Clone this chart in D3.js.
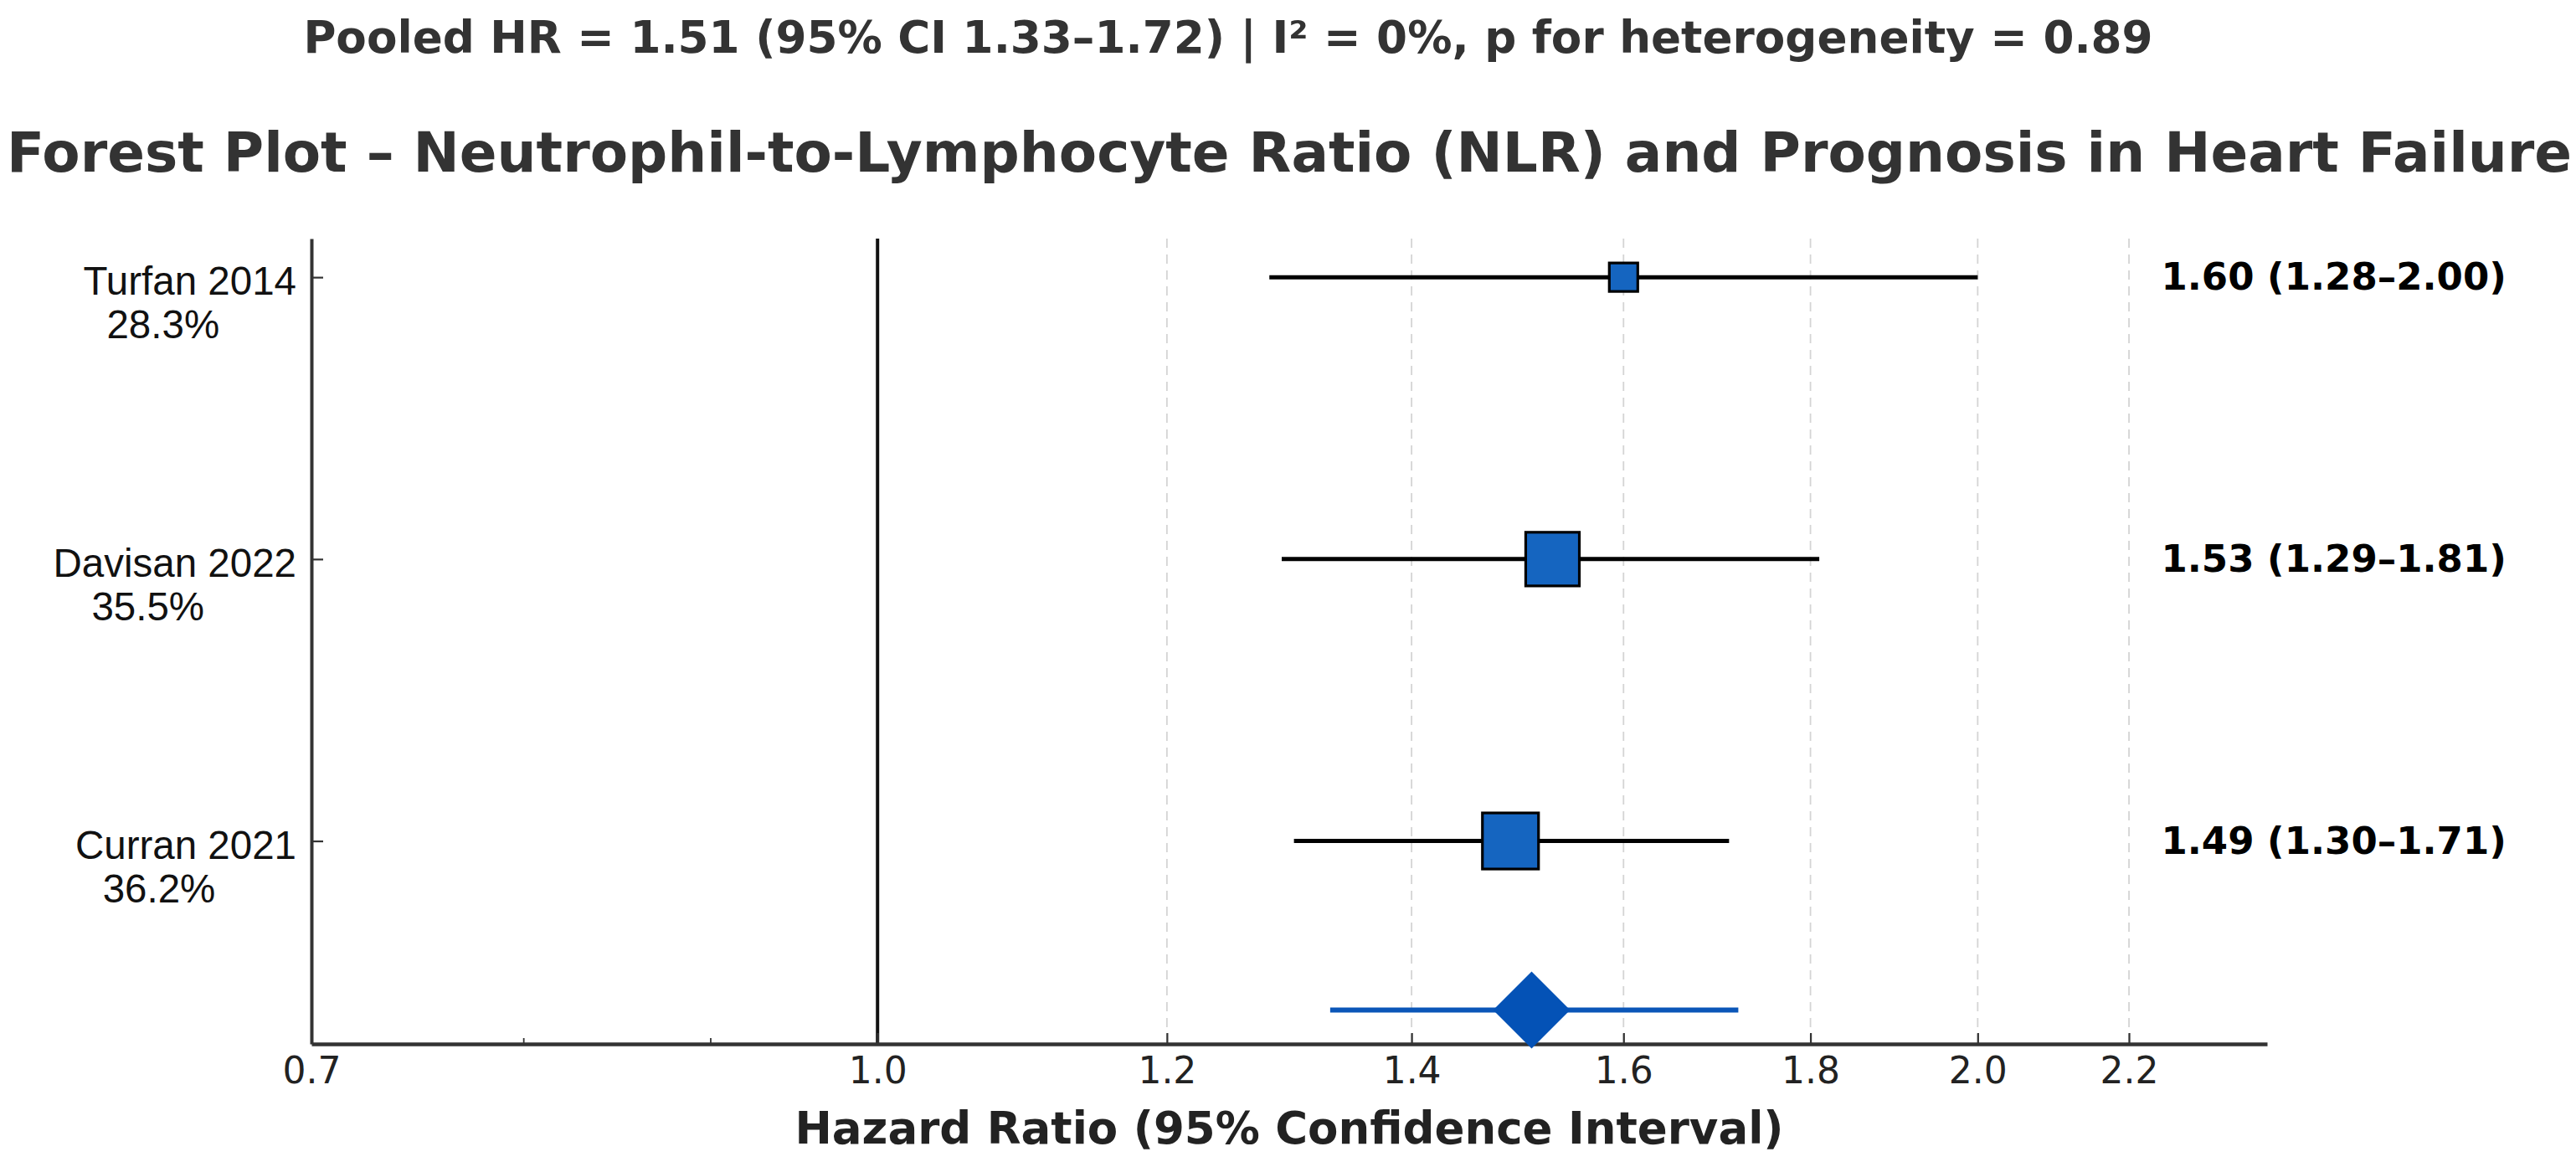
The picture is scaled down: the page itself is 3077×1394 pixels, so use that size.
<!DOCTYPE html>
<html><head><meta charset="utf-8">
<script src="https://cdn.jsdelivr.net/npm/d3@7/dist/d3.min.js"></script>
<style>body{margin:0;background:#fff}svg{display:block}</style>
</head><body><svg id="chart"></svg>
<script>
// ---- data ----
const studies = ["Turfan 2014", "Davisan 2022", "Curran 2021"];
const weights = [28.3, 35.5, 36.2];
const hrValues = [1.60, 1.53, 1.49];
const ciLower = [1.28, 1.29, 1.30];
const ciUpper = [2.00, 1.81, 1.71];
const pooledHR = [1.51];
const pooledCI = [1.33, 1.72];
const xTickValues = [0.7, 1.0, 1.2, 1.4, 1.6, 1.8, 2.0, 2.2];
const xMinorTicks = [0.8, 0.9];
const gridValues = [1.2, 1.4, 1.6, 1.8, 2.0, 2.2];
const subtitle = "Pooled HR = 1.51 (95% CI 1.33\u20131.72) | I\u00b2 = 0%, p for heterogeneity = 0.89";
const title = "Forest Plot \u2013 Neutrophil-to-Lymphocyte Ratio (NLR) and Prognosis in Heart Failure";
const xLabel = "Hazard Ratio (95% Confidence Interval)";

// ---- layout ----
const W = 3077, H = 1394;
const rowPos = [3, 2, 1], pooledPos = 0.4;
const svg = d3.select("#chart").attr("width", W).attr("height", H);
svg.append("rect").attr("width", W).attr("height", H).attr("fill", "#fff");

const x = d3.scaleLog().domain([0.7, 2.4]).range([372, 2708]);
const y = d3.scaleLinear().domain([0.28, 3.137]).range([1247, 285]);
const size = d3.scaleLinear().domain(d3.extent(weights)).range([34, 67]);
const fmt = d3.format(".2f");

const bold = "'DejaVu Sans', sans-serif";

// titles
svg.append("text").attr("x", 1467).attr("y", 63).attr("text-anchor", "middle")
  .attr("font-family", bold).attr("font-weight", "bold").attr("font-size", 53.2)
  .attr("fill", "#333").text(subtitle);
svg.append("text").attr("x", 1540).attr("y", 205).attr("text-anchor", "middle")
  .attr("font-family", bold).attr("font-weight", "bold").attr("font-size", 66)
  .attr("fill", "#333").text(title);

// grid
svg.append("g").selectAll("line").data(gridValues).join("line")
  .attr("x1", d => x(d)).attr("x2", d => x(d))
  .attr("y1", y.range()[1]).attr("y2", y.range()[0])
  .attr("stroke", "#d4d4d4").attr("stroke-width", 1.8).attr("stroke-dasharray", "11,8");

// reference line at HR = 1
svg.append("line").attr("x1", x(1)).attr("x2", x(1))
  .attr("y1", y.range()[1]).attr("y2", y.range()[0])
  .attr("stroke", "#111").attr("stroke-width", 4);

// x axis
const xAxis = d3.axisBottom(x).tickValues(xTickValues).tickFormat(d3.format(".1f"))
  .tickSizeInner(-13).tickSizeOuter(0).tickPadding(16);
const gx = svg.append("g").attr("transform", `translate(0,${y.range()[0]})`).call(xAxis);
gx.select(".domain").attr("stroke", "#333").attr("stroke-width", 4.5);
gx.selectAll(".tick line").attr("stroke", "#333").attr("stroke-width", 2.2);
gx.selectAll(".tick text").attr("font-family", bold).attr("font-size", 44).attr("fill", "#222");
const xMinor = d3.axisBottom(x).tickValues(xMinorTicks).tickFormat("").tickSizeInner(-7).tickSizeOuter(0);
const gxm = svg.append("g").attr("transform", `translate(0,${y.range()[0]})`).call(xMinor);
gxm.select(".domain").remove();
gxm.selectAll(".tick line").attr("stroke", "#333").attr("stroke-width", 1.8);

// y axis (ticks only, custom labels)
const yAxis = d3.axisLeft(y).tickValues(rowPos).tickFormat("").tickSizeInner(-14).tickSizeOuter(0);
const gy = svg.append("g").attr("transform", `translate(${x.range()[0]},0)`).call(yAxis);
gy.select(".domain").attr("stroke", "#333").attr("stroke-width", 4);
gy.selectAll(".tick line").attr("stroke", "#333").attr("stroke-width", 2.2);

// y labels (two lines)
const lab = svg.append("g").attr("font-family", "'Liberation Sans', Arial, sans-serif")
  .attr("font-size", 47.5).attr("fill", "#111");
studies.forEach((s, i) => {
  const yy = y(rowPos[i]);
  const t1 = lab.append("text").attr("x", 354).attr("y", yy + 21).attr("text-anchor", "end").text(s);
  const w1 = t1.node().getComputedTextLength();
  lab.append("text").attr("x", 354 - w1 / 2 - 32).attr("y", yy + 73)
    .attr("text-anchor", "middle").text(weights[i].toFixed(1) + "%");
});

// CI lines
const rows = studies.map((s, i) => ({s, w: weights[i], hr: hrValues[i], lo: ciLower[i], hi: ciUpper[i], p: rowPos[i]}));
svg.append("g").selectAll("line").data(rows).join("line")
  .attr("x1", d => x(d.lo)).attr("x2", d => x(d.hi))
  .attr("y1", d => y(d.p)).attr("y2", d => y(d.p))
  .attr("stroke", "#000").attr("stroke-width", 5);

// squares
svg.append("g").selectAll("rect").data(rows).join("rect")
  .attr("x", d => x(d.hr) - size(d.w) / 2).attr("y", d => y(d.p) - size(d.w) / 2)
  .attr("width", d => size(d.w)).attr("height", d => size(d.w))
  .attr("fill", "#1565C0").attr("stroke", "#000").attr("stroke-width", 3.2);

// value labels
svg.append("g").selectAll("text").data(rows).join("text")
  .attr("x", x(2.245)).attr("y", d => y(d.p) + 15)
  .attr("font-family", bold).attr("font-weight", "bold").attr("font-size", 45).attr("fill", "#000")
  .text(d => `${fmt(d.hr)} (${fmt(d.lo)}\u2013${fmt(d.hi)})`);

// pooled
const py = y(pooledPos);
svg.append("line").attr("x1", x(pooledCI[0])).attr("x2", x(pooledCI[1]))
  .attr("y1", py).attr("y2", py).attr("stroke", "#0b56b8").attr("stroke-width", 6);
const dh = 46;
const px = x(pooledHR[0]);
svg.append("path")
  .attr("d", `M${px},${py - dh}L${px + dh},${py}L${px},${py + dh}L${px - dh},${py}Z`)
  .attr("fill", "#0452b6");

// x label
svg.append("text").attr("x", 1540).attr("y", 1366).attr("text-anchor", "middle")
  .attr("font-family", bold).attr("font-weight", "bold").attr("font-size", 53)
  .attr("fill", "#222").text(xLabel);
</script></body></html>
